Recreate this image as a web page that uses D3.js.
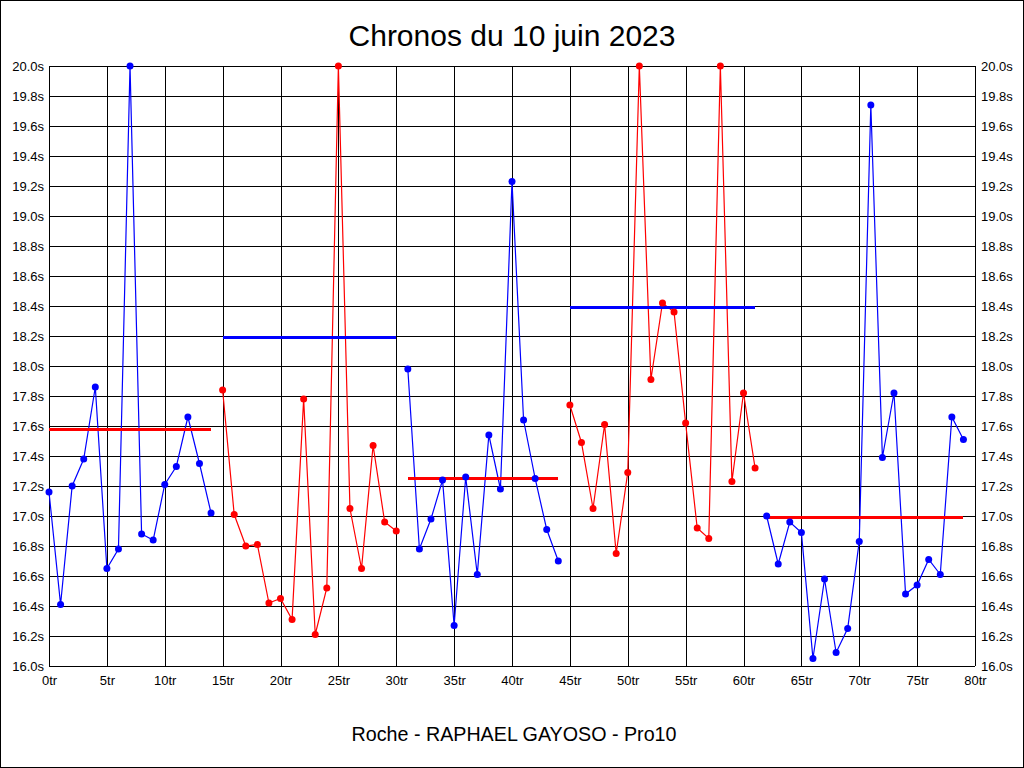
<!DOCTYPE html>
<html>
<head>
<meta charset="utf-8">
<script src="https://cdn.jsdelivr.net/npm/d3@7"></script>
<style>
  html, body { margin: 0; padding: 0; background: #fff; }
  svg { display: block; }
  text { font-family: "Liberation Sans", Arial, sans-serif; fill: #000; }
</style>
</head>
<body>
<script>
// ---- data ----
const title = "Chronos du 10 juin 2023";
const footer = "Roche - RAPHAEL GAYOSO - Pro10";

const lapTimes = [
  17.16, 16.41, 17.20, 17.38, 17.86, 16.65, 16.78, 20.00, 16.88, 16.84,
  17.21, 17.33, 17.66, 17.35, 17.02, 17.84, 17.01, 16.80, 16.81, 16.42,
  16.45, 16.31, 17.78, 16.21, 16.52, 20.00, 17.05, 16.65, 17.47, 16.96,
  16.90, 17.98, 16.78, 16.98, 17.24, 16.27, 17.26, 16.61, 17.54, 17.18,
  19.23, 17.64, 17.25, 16.91, 16.70, 17.74, 17.49, 17.05, 17.61, 16.75,
  17.29, 20.00, 17.91, 18.42, 18.36, 17.62, 16.92, 16.85, 20.00, 17.23,
  17.82, 17.32, 17.00, 16.68, 16.96, 16.89, 16.05, 16.58, 16.09, 16.25,
  16.83, 19.74, 17.39, 17.82, 16.48, 16.54, 16.71, 16.61, 17.66, 17.51
];

const segStart = [0, 15, 31, 45, 62];
const segEnd   = [14, 30, 44, 61, 79];
const segColor = ["#0000ff", "#ff0000", "#0000ff", "#ff0000", "#0000ff"];
const segMean  = [17.58, 18.19, 17.25, 18.39, 16.99];
const meanColor = ["#ff0000", "#0000ff", "#ff0000", "#0000ff", "#ff0000"];

const yTickValues = [16.0, 16.2, 16.4, 16.6, 16.8, 17.0, 17.2, 17.4, 17.6, 17.8,
                     18.0, 18.2, 18.4, 18.6, 18.8, 19.0, 19.2, 19.4, 19.6, 19.8, 20.0];
const xTickValues = [0, 5, 10, 15, 20, 25, 30, 35, 40, 45, 50, 55, 60, 65, 70, 75, 80];

// ---- layout ----
const W = 1024, H = 768;
const plot = { left: 49, right: 975, top: 66, bottom: 666 };

const svg = d3.select("body").append("svg")
  .attr("width", W).attr("height", H);

svg.append("rect")
  .attr("x", 0.5).attr("y", 0.5)
  .attr("width", W - 1).attr("height", H - 1)
  .attr("fill", "#fff").attr("stroke", "#000").attr("stroke-width", 1)
  .attr("shape-rendering", "crispEdges");

const x = d3.scaleLinear().domain([0, 80]).range([plot.left, plot.right]);
const y = d3.scaleLinear().domain([16, 20]).range([plot.bottom, plot.top]);

// grid
const grid = svg.append("g").attr("shape-rendering", "crispEdges")
  .attr("stroke", "#000").attr("stroke-width", 1);

grid.selectAll("line.h").data(yTickValues).join("line")
  .attr("x1", plot.left).attr("x2", plot.right)
  .attr("y1", d => Math.round(y(d)) + 0.5).attr("y2", d => Math.round(y(d)) + 0.5);

grid.selectAll("line.v").data(xTickValues).join("line")
  .attr("y1", plot.top).attr("y2", plot.bottom)
  .attr("x1", d => Math.round(x(d)) + 0.5).attr("x2", d => Math.round(x(d)) + 0.5);

// axes labels via d3 axes (lines hidden)
const yLeft = svg.append("g")
  .attr("transform", `translate(${plot.left},0)`)
  .call(d3.axisLeft(y).tickValues(yTickValues).tickSize(0).tickPadding(5)
        .tickFormat(d => d.toFixed(1) + "s"));
const yRight = svg.append("g")
  .attr("transform", `translate(${plot.right},0)`)
  .call(d3.axisRight(y).tickValues(yTickValues).tickSize(0).tickPadding(6)
        .tickFormat(d => d.toFixed(1) + "s"));
const xBottom = svg.append("g")
  .attr("transform", `translate(0,${plot.bottom})`)
  .call(d3.axisBottom(x).tickValues(xTickValues).tickSize(0).tickPadding(10)
        .tickFormat(d => d + "tr"));

[yLeft, yRight, xBottom].forEach(g => {
  g.select(".domain").remove();
  g.selectAll("text")
    .style("font-family", '"Liberation Sans", Arial, sans-serif')
    .style("font-size", "13px")
    .attr("fill", "#000");
});
yLeft.selectAll("text").attr("dy", "0.35em");
yRight.selectAll("text").attr("dy", "0.35em");
xBottom.selectAll("text").attr("dy", "0.71em");

// segments
const segments = segStart.map((s, i) => ({
  color: segColor[i],
  mean: segMean[i],
  meanColor: meanColor[i],
  start: s,
  end: segEnd[i],
  pts: d3.range(s, segEnd[i] + 1).map(k => ({ k, v: lapTimes[k] }))
}));

const line = d3.line().x(d => x(d.k)).y(d => y(d.v));

svg.append("g").selectAll("path").data(segments).join("path")
  .attr("d", d => line(d.pts))
  .attr("fill", "none")
  .attr("stroke", d => d.color)
  .attr("stroke-width", 1.2);

svg.append("g").attr("shape-rendering", "crispEdges")
  .selectAll("line").data(segments).join("line")
  .attr("x1", d => x(d.start)).attr("x2", d => x(d.end))
  .attr("y1", d => y(d.mean)).attr("y2", d => y(d.mean))
  .attr("stroke", d => d.meanColor)
  .attr("stroke-width", 3);

const dots = svg.append("g");
segments.forEach(seg => {
  dots.selectAll(null).data(seg.pts).join("circle")
    .attr("cx", d => x(d.k)).attr("cy", d => y(d.v))
    .attr("r", 3.5)
    .attr("fill", seg.color);
});

// titles
svg.append("text")
  .attr("x", 512).attr("y", 46)
  .attr("text-anchor", "middle")
  .style("font-size", "30px")
  .text(title);

svg.append("text")
  .attr("x", 514).attr("y", 741)
  .attr("text-anchor", "middle")
  .style("font-size", "19.7px")
  .text(footer);
</script>
</body>
</html>
